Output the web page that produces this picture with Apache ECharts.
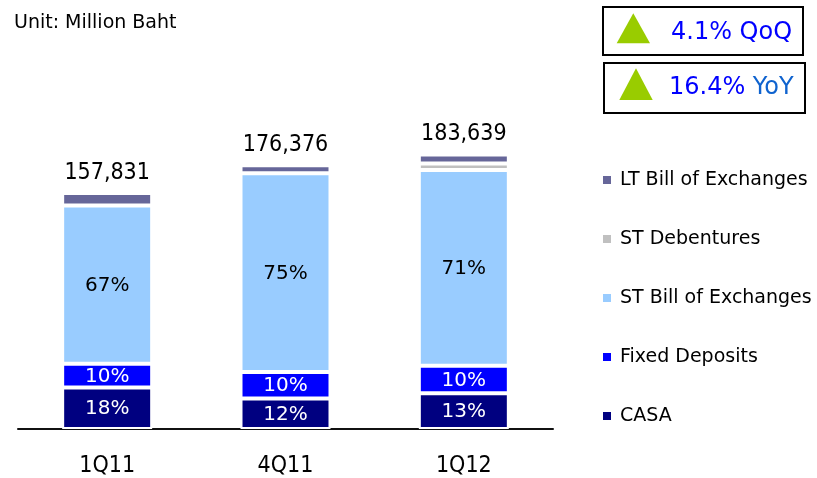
<!DOCTYPE html>
<html>
<head>
<meta charset="utf-8">
<script src="https://cdn.jsdelivr.net/npm/echarts@6/dist/echarts.min.js"></script>
<style>
html,body{margin:0;padding:0;background:#fff;}
#chart{width:817px;height:478px;}
</style>
</head>
<body>
<div id="chart"></div>
<script>
// Data (Million Baht)
var categories = ['1Q11', '4Q11', '1Q12'];
var casa        = [27700, 20460, 23900];
var fixedDep    = [15900, 17640, 18400];
var stBill      = [105900, 132990, 131000];
var stDeb       = [0, 0, 4350];
var ltBill      = [8331, 5286, 5989];
var seriesNames = ['CASA', 'Fixed Deposits', 'ST Bill of Exchanges', 'ST Debentures', 'LT Bill of Exchanges'];
var seriesColors = ['#000080', '#0000FF', '#99CCFF', '#C0C0C0', '#666699'];
var unitText = 'Unit: Million Baht';
var qoqText = '4.1% QoQ';
var yoyValue = '16.4%';
var yoyLabel = 'YoY';

var allSeries = [casa, fixedDep, stBill, stDeb, ltBill];
var totals = categories.map(function (c, i) {
  return allSeries.reduce(function (s, arr) { return s + arr[i]; }, 0);
});
function fmt(n) { return String(n).replace(/\B(?=(\d{3})+(?!\d))/g, ','); }
function pct(v, i) { return Math.round(v / totals[i] * 100) + '%'; }

var series = allSeries.map(function (arr, k) {
  var s = {
    name: seriesNames[k],
    type: 'bar',
    stack: 'total',
    data: arr,
    barWidth: 90,
    itemStyle: { color: seriesColors[k], borderColor: '#ffffff', borderWidth: 2 },
    emphasis: { disabled: true },
    label: { show: false }
  };
  if (k <= 2) {
    s.label = {
      show: true,
      position: 'inside',
      offset: [0, 1],
      color: k === 2 ? '#000000' : '#ffffff',
      fontFamily: 'DejaVu Sans',
      fontSize: 20,
      formatter: function (p) { return pct(p.value, p.dataIndex); }
    };
  }
  if (k === 4) {
    s.label = {
      show: true,
      position: 'top',
      distance: 9,
      color: '#000000',
      fontFamily: 'DejaVu Sans Condensed',
      fontSize: 23,
      formatter: function (p) { return fmt(totals[p.dataIndex]); }
    };
  }
  return s;
});

var chart = echarts.init(document.getElementById('chart'), null, { renderer: 'canvas' });
chart.setOption({
  animation: false,
  backgroundColor: '#ffffff',
  grid: { left: 18, right: 264, top: 130, bottom: 49, containLabel: false },
  xAxis: {
    type: 'category',
    data: categories,
    axisLine: { show: true, lineStyle: { color: '#111111', width: 2 } },
    axisTick: { show: false },
    axisLabel: { color: '#000000', fontFamily: 'DejaVu Sans Condensed', fontSize: 23, margin: 26 }
  },
  yAxis: {
    type: 'value',
    min: 0,
    max: 200000,
    show: false,
    splitLine: { show: false }
  },
  legend: {
    orient: 'vertical',
    left: 601,
    top: 170,
    padding: 0,
    itemWidth: 10,
    itemHeight: 10,
    itemGap: 39,
    icon: 'rect',
    data: ['LT Bill of Exchanges', 'ST Debentures', 'ST Bill of Exchanges', 'Fixed Deposits', 'CASA'],
    textStyle: { color: '#000000', fontFamily: 'DejaVu Sans', fontSize: 19, lineHeight: 20, padding: [0, 0, 0, 3] },
    selectedMode: false
  },
  graphic: [
    { type: 'text', left: 14, top: 14, style: { text: unitText, fontFamily: 'DejaVu Sans', fontSize: 19, fill: '#000000' } },
    { type: 'rect', shape: { x: 603, y: 7, width: 200, height: 48 }, style: { fill: '#ffffff', stroke: '#000000', lineWidth: 2 } },
    { type: 'rect', shape: { x: 604, y: 63, width: 201, height: 50 }, style: { fill: '#ffffff', stroke: '#000000', lineWidth: 2 } },
    { type: 'polygon', shape: { points: [[616.7, 43.3], [650, 43.3], [633.3, 13.3]] }, style: { fill: '#99CC00' } },
    { type: 'polygon', shape: { points: [[619.3, 100], [652.7, 100], [636, 68.3]] }, style: { fill: '#99CC00' } },
    { type: 'text', x: 671, y: 33, style: { text: qoqText, fontFamily: 'DejaVu Sans', fontSize: 24, fill: '#0000FF', verticalAlign: 'middle', align: 'left' } },
    { type: 'text', x: 669, y: 88, style: {
        text: '{a|' + yoyValue + ' }{b|' + yoyLabel + '}',
        verticalAlign: 'middle', align: 'left',
        rich: {
          a: { fontFamily: 'DejaVu Sans', fontSize: 24, fill: '#0000FF' },
          b: { fontFamily: 'DejaVu Sans', fontSize: 24, fill: '#0F63CF' }
        }
      } }
  ],
  series: series
});
</script>
</body>
</html>
